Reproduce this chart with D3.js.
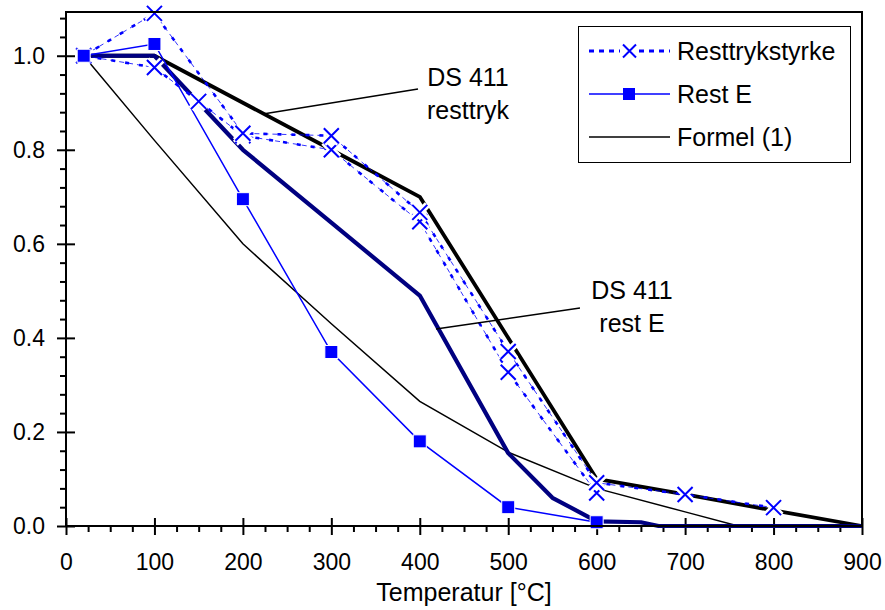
<!DOCTYPE html>
<html>
<head>
<meta charset="utf-8">
<script src="https://cdn.jsdelivr.net/npm/d3@7"></script>
<style>
  body { margin: 0; background: #fff; }
  svg { display: block; font-family: "Liberation Sans", Arial, sans-serif; }
</style>
</head>
<body>
<div id="chart"></div>
<script>
// [temperatur, relative value]
const ds411Resttryk = [[20, 1.0], [100, 1.0], [200, 0.9], [300, 0.8], [400, 0.7], [600, 0.1], [700, 0.067], [800, 0.033], [900, 0]];
const ds411RestE = [[20, 1.0], [100, 1.0], [200, 0.8], [300, 0.645], [400, 0.49], [500, 0.155], [550, 0.06], [600, 0.01], [650, 0.008], [670, 0], [900, 0]];
const formel1 = [[20, 1.0], [100, 0.82], [200, 0.6], [300, 0.43], [400, 0.265], [500, 0.157], [600, 0.08], [700, 0.03], [760, 0]];
const restE = [[20, 1.0], [100, 1.025], [200, 0.695], [300, 0.37], [400, 0.18], [500, 0.04], [600, 0.008]];
const resttrykA = [[20, 1.0], [100, 1.09], [200, 0.835], [300, 0.83], [400, 0.667], [500, 0.371], [600, 0.092], [700, 0.067], [800, 0.039]];
const resttrykB = [[20, 1.0], [100, 0.975], [150, 0.903], [200, 0.83], [300, 0.80], [400, 0.647], [500, 0.327], [600, 0.07]];

const xTicks = [0, 100, 200, 300, 400, 500, 600, 700, 800, 900];
const yTicks = [0, 0.2, 0.4, 0.6, 0.8, 1.0];
const legendItems = ["Resttrykstyrke", "Rest E", "Formel (1)"];
const xTitle = "Temperatur [°C]";

const W = 885, H = 610;
const blue = "#0000ff", navy = "#000080";

const svg = d3.select("#chart").append("svg")
  .attr("width", W)
  .attr("height", H);

const x = d3.scaleLinear().domain([0, 900]).range([66, 862]);
const y = d3.scaleLinear().domain([0, 1.093]).range([526, 12]);

const line = d3.line()
  .x(d => x(d[0]))
  .y(d => y(d[1]));

// axes: outward ticks with labels, inward half of major ticks, minor ticks
const xMinor = d3.range(0, 901, 25).filter(v => v % 100 !== 0);
const yMinor = d3.range(0, 1.09, 0.04).filter(v => Math.abs(v / 0.2 - Math.round(v / 0.2)) > 0.01);

function styleAxis(sel) {
  sel.select(".domain").remove();
  sel.selectAll("line").attr("stroke", "#000").attr("stroke-width", 2);
  sel.selectAll("text").attr("font-size", 23).attr("fill", "#000");
}

svg.append("g")
  .attr("transform", `translate(0,${y(0)})`)
  .call(d3.axisBottom(x).tickValues(xTicks).tickSizeInner(9).tickSizeOuter(0).tickPadding(19).tickFormat(d3.format("d")))
  .call(styleAxis);
svg.append("g")
  .attr("transform", `translate(0,${y(0)})`)
  .call(d3.axisBottom(x).tickValues(xTicks).tickSizeInner(-8).tickSizeOuter(0).tickFormat(""))
  .call(styleAxis);
svg.append("g")
  .attr("transform", `translate(0,${y(0)})`)
  .call(d3.axisBottom(x).tickValues(xMinor).tickSizeInner(6).tickSizeOuter(0).tickFormat(""))
  .call(styleAxis);

svg.append("g")
  .attr("transform", `translate(${x(0)},0)`)
  .call(d3.axisLeft(y).tickValues(yTicks).tickSizeInner(9).tickSizeOuter(0).tickPadding(12).tickFormat(d3.format(".1f")))
  .call(styleAxis);
svg.append("g")
  .attr("transform", `translate(${x(0)},0)`)
  .call(d3.axisLeft(y).tickValues(yTicks).tickSizeInner(-9).tickSizeOuter(0).tickFormat(""))
  .call(styleAxis);
svg.append("g")
  .attr("transform", `translate(${x(0)},0)`)
  .call(d3.axisLeft(y).tickValues(yMinor).tickSizeInner(6).tickSizeOuter(0).tickFormat(""))
  .call(styleAxis);

svg.append("text")
  .attr("x", (x(0) + x(900)) / 2)
  .attr("y", 601)
  .attr("text-anchor", "middle")
  .attr("font-size", 25)
  .text(xTitle);

// curves
const plot = svg.append("g");

plot.append("path").datum(formel1)
  .attr("d", line).attr("fill", "none")
  .attr("stroke", "#000").attr("stroke-width", 1.5);

plot.append("path").datum(ds411Resttryk)
  .attr("d", line).attr("fill", "none")
  .attr("stroke", "#000").attr("stroke-width", 3.8)
  .attr("stroke-linejoin", "round");

plot.append("path").datum(ds411RestE)
  .attr("d", line).attr("fill", "none")
  .attr("stroke", navy).attr("stroke-width", 4.2)
  .attr("stroke-linejoin", "round");

plot.append("path").datum(restE)
  .attr("d", line).attr("fill", "none")
  .attr("stroke", blue).attr("stroke-width", 1.5);

for (const s of [resttrykA, resttrykB]) {
  plot.append("path").datum(s)
    .attr("d", line).attr("fill", "none")
    .attr("stroke", blue).attr("stroke-width", 0.8)
    .attr("stroke-dasharray", "5,4");
  plot.append("path").datum(s)
    .attr("d", line).attr("fill", "none")
    .attr("stroke", blue).attr("stroke-width", 2.6)
    .attr("stroke-dasharray", "4,10");
}

// cross markers with a white halo that cuts the lines underneath
function cross(g, cx, cy, r, halo) {
  const p = `M${cx - r},${cy - r}L${cx + r},${cy + r}M${cx - r},${cy + r}L${cx + r},${cy - r}`;
  if (halo) {
    g.append("path").attr("d", p).attr("stroke", "#fff").attr("stroke-width", 7);
  }
  g.append("path").attr("d", p).attr("stroke", blue).attr("stroke-width", 2);
}

const marks = svg.append("g");
for (const s of [resttrykB, resttrykA]) {
  s.forEach(d => cross(marks, x(d[0]), y(d[1]), 7.5, true));
}

marks.selectAll("rect.sq")
  .data(restE)
  .join("rect")
  .attr("class", "sq")
  .attr("x", d => x(d[0]) - 6.5)
  .attr("y", d => y(d[1]) - 6.5)
  .attr("width", 13)
  .attr("height", 13)
  .attr("fill", blue)
  .attr("stroke", "#fff")
  .attr("stroke-width", 1);

// frame
svg.append("rect")
  .attr("x", x(0)).attr("y", y(1.093))
  .attr("width", x(900) - x(0)).attr("height", y(0) - y(1.093))
  .attr("fill", "none").attr("stroke", "#000").attr("stroke-width", 2);

// annotations
function note(lines, tx, ty, from, to) {
  svg.append("line")
    .attr("x1", from[0]).attr("y1", from[1])
    .attr("x2", to[0]).attr("y2", to[1])
    .attr("stroke", "#000").attr("stroke-width", 1.5);
  lines.forEach((t, i) => {
    svg.append("text")
      .attr("x", tx).attr("y", ty + i * 33)
      .attr("text-anchor", "middle")
      .attr("font-size", 25)
      .text(t);
  });
}
note(["DS 411", "resttryk"], 468, 86, [263, 114], [418, 89]);
note(["DS 411", "rest E"], 632, 299, [436, 329], [580, 308]);

// legend
const legend = svg.append("g");
legend.append("rect")
  .attr("x", 578.5).attr("y", 26.5)
  .attr("width", 272).attr("height", 136)
  .attr("fill", "#fff").attr("stroke", "#000").attr("stroke-width", 1);

const ly = [51, 94, 137];
legendItems.forEach((t, i) => {
  const row = legend.append("g").attr("transform", `translate(0,${ly[i]})`);
  if (i === 0) {
    row.append("line").attr("x1", 589).attr("x2", 670)
      .attr("stroke", blue).attr("stroke-width", 3).attr("stroke-dasharray", "5,5");
    row.append("rect").attr("x", 620).attr("y", -8).attr("width", 19).attr("height", 16).attr("fill", "#fff");
    cross(row, 629.5, 0, 6.5, false);
  } else if (i === 1) {
    row.append("line").attr("x1", 589).attr("x2", 670)
      .attr("stroke", blue).attr("stroke-width", 1.5);
    row.append("rect").attr("x", 623).attr("y", -6).attr("width", 12).attr("height", 12).attr("fill", blue);
  } else {
    row.append("line").attr("x1", 589).attr("x2", 670)
      .attr("stroke", "#000").attr("stroke-width", 1.5);
  }
  row.append("text")
    .attr("x", 677).attr("y", 8.5)
    .attr("font-size", 25)
    .text(t);
});
</script>
</body>
</html>
